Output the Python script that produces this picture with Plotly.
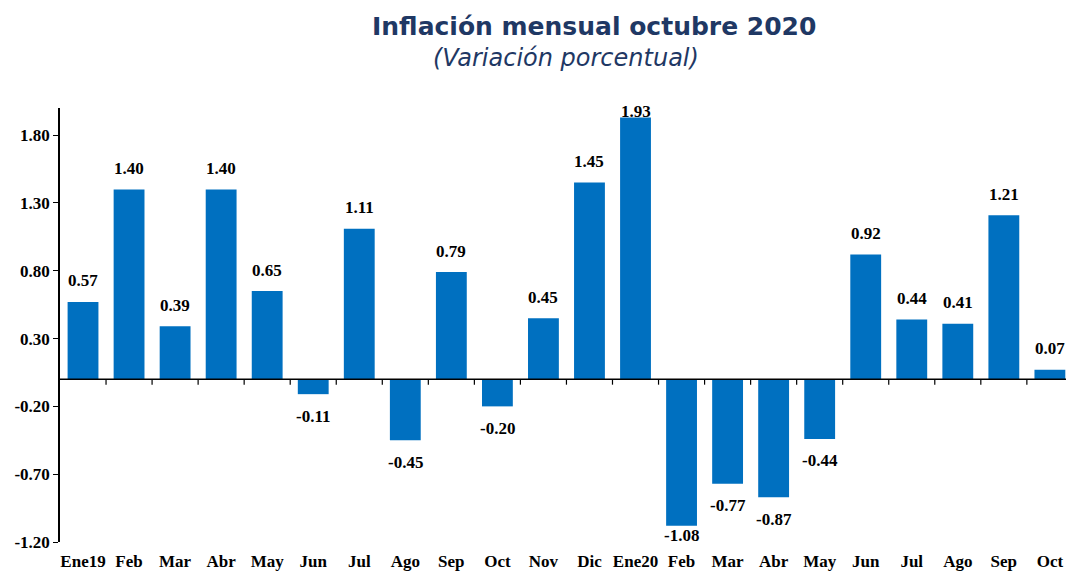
import plotly.graph_objects as go

categories = ["Ene19", "Feb", "Mar", "Abr", "May", "Jun", "Jul", "Ago", "Sep", "Oct", "Nov",
              "Dic", "Ene20", "Feb", "Mar", "Abr", "May", "Jun", "Jul", "Ago", "Sep", "Oct"]
values = [0.57, 1.40, 0.39, 1.40, 0.65, -0.11, 1.11, -0.45, 0.79, -0.20, 0.45,
          1.45, 1.93, -1.08, -0.77, -0.87, -0.44, 0.92, 0.44, 0.41, 1.21, 0.07]
y_ticks = [-1.20, -0.70, -0.20, 0.30, 0.80, 1.30, 1.80]

BAR = "#0070C0"
NAVY = "#1F3864"
SERIF = "Liberation Serif, Times New Roman, serif"

idx = list(range(len(categories)))

W, H = 1066, 571
ML, MR, MT, MB = 60, 0, 108, 29
pw, ph = W - ML - MR, H - MT - MB

fig = go.Figure()
fig.add_trace(go.Bar(x=idx, y=values, marker=dict(color=BAR, line=dict(width=0)),
                     width=0.67, hoverinfo="skip"))

annotations = []
for i, v in zip(idx, values):
    if v >= 0:
        shift = 6 if v > 1.85 else 21
    else:
        shift = -10 if v < -1.0 else -22
    annotations.append(dict(x=i, y=v, xref="x", yref="y", text=f"<b>{v:.2f}</b>",
                            showarrow=False, yshift=shift, xanchor="center", yanchor="middle",
                            font=dict(family=SERIF, size=17, color="black")))


def px_to_paper(xp, yp):
    return (xp - ML) / pw, (H - yp - MB) / ph


tx, ty = px_to_paper(594, 27)
sx, sy = px_to_paper(566, 58)
annotations.append(dict(x=tx, y=ty, xref="paper", yref="paper", text="<b>Inflación mensual octubre 2020</b>",
                        showarrow=False, xanchor="center", yanchor="middle",
                        font=dict(family="DejaVu Sans", size=25, color=NAVY)))
annotations.append(dict(x=sx, y=sy, xref="paper", yref="paper", text="<i>(Variación porcentual)</i>",
                        showarrow=False, xanchor="center", yanchor="middle",
                        font=dict(family="DejaVu Sans", size=24, color=NAVY)))

shapes = []
for i in idx[:-1]:
    shapes.append(dict(type="line", xref="x", yref="y", x0=i + 0.5, x1=i + 0.5, y0=0, y1=-0.04,
                       line=dict(color="black", width=1.2)))
shapes.append(dict(type="line", xref="paper", yref="y", x0=0, x1=1, y0=0, y1=0,
                   line=dict(color="black", width=1.5)))

fig.update_layout(
    width=W, height=H,
    margin=dict(l=ML, r=MR, t=MT, b=MB, autoexpand=False),
    plot_bgcolor="white", paper_bgcolor="white",
    showlegend=False,
    annotations=annotations,
    shapes=shapes,
    xaxis=dict(range=[-0.5, 21.35], tickmode="array", tickvals=idx, ticktext=[f"<b>{c}</b>" for c in categories],
               showgrid=False, zeroline=False, showline=False, ticks="", ticklabelstandoff=7,
               automargin=False,
               tickfont=dict(family=SERIF, size=17, color="black")),
    yaxis=dict(range=[-1.2, 2.0], tickmode="array", tickvals=y_ticks,
               ticktext=[f"<b>{t:.2f}</b>" for t in y_ticks],
               showgrid=False, zeroline=False, showline=True, linecolor="black", linewidth=1.5,
               ticks="outside", ticklen=5, tickcolor="black", tickwidth=1.2, automargin=False,
               tickfont=dict(family=SERIF, size=17, color="black")),
)

fig.write_html("out.html", config={"displayModeBar": False},
               post_script="document.body.style.margin='0';document.body.style.overflow='hidden';")
